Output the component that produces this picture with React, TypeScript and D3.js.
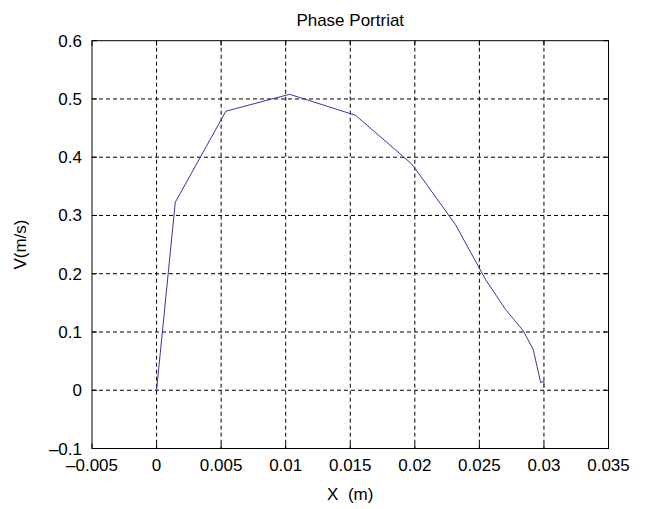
import React from "react";
import * as d3 from "d3";

const xPos: number[] = [0, 0.00145, 0.00537, 0.0103, 0.01541, 0.01973, 0.01993, 0.02316, 0.02548, 0.02703, 0.0284, 0.02917, 0.02975, 0.0300, 0.0300];
const vVal: number[] = [0, 0.3227, 0.479, 0.508, 0.472, 0.389, 0.3835, 0.284, 0.19, 0.1385, 0.102, 0.0699, 0.013, 0.0155, 0.005];
const xTicks: number[] = [-0.005, 0, 0.005, 0.01, 0.015, 0.02, 0.025, 0.03, 0.035];
const yTicks: number[] = [-0.1, 0, 0.1, 0.2, 0.3, 0.4, 0.5, 0.6];
const title = "Phase Portriat";
const xLabel = "X  (m)";
const yLabel = "V(m/s)";

const W = 649, H = 509;
const L = 92, R = 608.5, T = 40.7, B = 448.5;

const fmt = (v: number) => {
  const s = String(+v.toFixed(4));
  return s.startsWith("-") ? "\u2013" + s.slice(1) : s;
};

export default function App() {
  const x = d3.scaleLinear().domain([-0.005, 0.035]).range([L, R]);
  const y = d3.scaleLinear().domain([-0.1, 0.6]).range([B, T]);
  const line = d3.line<number>().x((_, i) => x(xPos[i])).y((d) => y(d));
  const font = "'Liberation Sans', Arial, Helvetica, sans-serif";
  const fs = 17;
  return (
    <svg width={W} height={H} style={{ position: "absolute", left: 0, top: 0, background: "#fff" }} fontFamily={font}>
      <rect x={0} y={0} width={W} height={H} fill="#fff" />
      <rect x={L} y={T} width={R - L} height={B - T} fill="#fff" />
      {xTicks.slice(1, -1).map((t) => (
        <line key={"gx" + t} x1={x(t)} x2={x(t)} y1={T} y2={B} stroke="#000" strokeWidth={1} strokeDasharray="4,3" />
      ))}
      {yTicks.slice(1, -1).map((t) => (
        <line key={"gy" + t} x1={L} x2={R} y1={y(t)} y2={y(t)} stroke="#000" strokeWidth={1} strokeDasharray="4,3" />
      ))}
      <path d={line(vVal) || ""} fill="none" stroke="#3d35a0" strokeWidth={1} />
      <rect x={L} y={T} width={R - L} height={B - T} fill="none" stroke="#000" strokeWidth={1} />
      {xTicks.map((t) => (
        <g key={"tx" + t}>
          <line x1={x(t)} x2={x(t)} y1={B} y2={B - 5} stroke="#000" />
          <line x1={x(t)} x2={x(t)} y1={T} y2={T + 5} stroke="#000" />
          <text x={x(t)} y={B + 22} fontSize={fs} textAnchor="middle" fill="#000">{fmt(t)}</text>
        </g>
      ))}
      {yTicks.map((t) => (
        <g key={"ty" + t}>
          <line x1={L} x2={L + 5} y1={y(t)} y2={y(t)} stroke="#000" />
          <line x1={R} x2={R - 5} y1={y(t)} y2={y(t)} stroke="#000" />
          <text x={L - 10} y={y(t) + 6} fontSize={fs} textAnchor="end" fill="#000">{fmt(t)}</text>
        </g>
      ))}
      <text x={(L + R) / 2} y={26} fontSize={fs} textAnchor="middle" fill="#000">{title}</text>
      <text x={(L + R) / 2} y={500} fontSize={fs} textAnchor="middle" fill="#000" style={{ whiteSpace: "pre" }}>{xLabel}</text>
      <text transform={`translate(26,${(T + B) / 2}) rotate(-90)`} fontSize={fs} textAnchor="middle" fill="#000">{yLabel}</text>
    </svg>
  );
}
